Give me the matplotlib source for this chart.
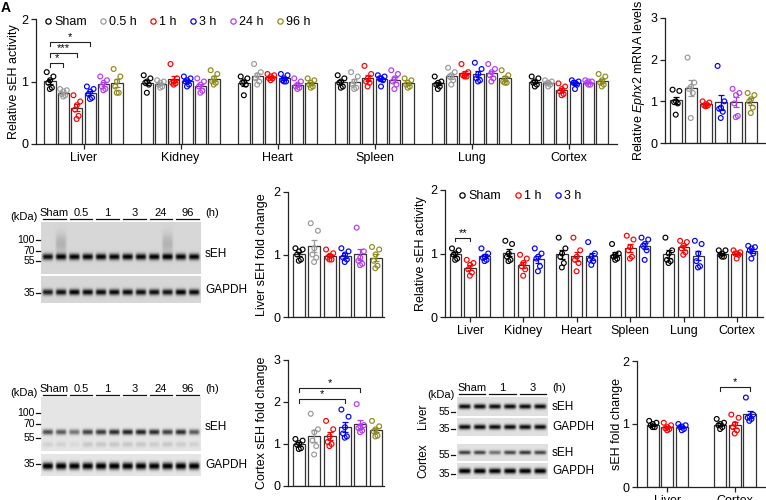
import numpy as np
import matplotlib.pyplot as plt
from matplotlib.lines import Line2D

plt.rcParams['font.family'] = ['Liberation Sans', 'DejaVu Sans']
plt.rcParams['mathtext.fontset'] = 'custom'
plt.rcParams['mathtext.rm'] = 'Liberation Sans'
plt.rcParams['mathtext.it'] = 'Liberation Sans:italic'

W, H = 766, 500

## datos
tissues = ['Liver', 'Kidney', 'Heart', 'Spleen', 'Lung', 'Cortex']
times = ['Sham', '0.5 h', '1 h', '3 h', '24 h', '96 h']
colors = ['#000000', '#9a9a9a', '#ff0000', '#0000ff', '#b43cf0', '#8c8c1e']

# actividad relativa de sEH, tejido -> grupo -> 6 animales
act_liver = [[1.15, 1.08, 1.02, 0.98, 0.90, 0.88], [0.88, 0.86, 0.84, 0.80, 0.78, 0.76],
             [0.78, 0.68, 0.62, 0.55, 0.45, 0.40], [0.92, 0.88, 0.84, 0.80, 0.74, 0.72],
             [1.08, 1.02, 0.98, 0.92, 0.88, 0.86], [1.20, 1.08, 1.00, 0.92, 0.82, 0.82]]
act_kidney = [[1.10, 1.05, 1.00, 0.98, 0.95, 0.82], [1.02, 1.00, 0.98, 0.95, 0.92, 0.90],
              [1.28, 1.05, 1.00, 0.98, 0.97, 0.95], [1.08, 1.05, 1.02, 1.00, 0.95, 0.92],
              [1.05, 1.00, 0.95, 0.92, 0.85, 0.82], [1.18, 1.12, 1.05, 1.00, 0.98, 0.95]]
act_heart = [[1.08, 1.05, 1.00, 0.98, 0.95, 0.78], [1.28, 1.15, 1.10, 1.05, 1.00, 0.95],
             [1.12, 1.10, 1.08, 1.05, 1.05, 1.02], [1.12, 1.10, 1.05, 1.02, 1.00, 1.00],
             [1.05, 1.00, 0.95, 0.92, 0.90, 0.88], [1.05, 1.02, 0.98, 0.95, 0.92, 0.90]]
act_spleen = [[1.10, 1.05, 1.00, 0.98, 0.92, 0.90], [1.15, 1.08, 1.00, 0.95, 0.90, 0.88],
              [1.25, 1.12, 1.05, 1.00, 0.98, 0.92], [1.10, 1.08, 1.05, 1.05, 1.02, 0.92],
              [1.18, 1.12, 1.05, 1.00, 0.95, 0.88], [1.05, 1.02, 0.98, 0.95, 0.92, 0.90]]
act_lung = [[1.08, 1.00, 0.98, 0.95, 0.92, 0.88], [1.22, 1.15, 1.10, 1.08, 1.02, 0.95],
            [1.28, 1.15, 1.10, 1.10, 1.08, 1.08], [1.30, 1.20, 1.12, 1.05, 1.02, 1.00],
            [1.28, 1.20, 1.15, 1.10, 1.05, 1.00], [1.18, 1.10, 1.05, 1.00, 0.98, 0.98]]
act_cortex = [[1.08, 1.05, 1.00, 0.98, 0.95, 0.92], [1.02, 1.00, 0.98, 0.97, 0.95, 0.92],
              [0.97, 0.92, 0.88, 0.84, 0.80, 0.78], [1.02, 1.00, 0.98, 0.98, 0.95, 0.88],
              [1.02, 1.00, 1.00, 0.98, 0.95, 0.95], [1.12, 1.08, 1.02, 0.98, 0.95, 0.92]]

# ARNm de Ephx2 en corteza
ephx2 = [[1.28, 1.25, 1.00, 0.98, 0.95, 0.68], [2.05, 1.45, 1.35, 1.30, 1.20, 0.60],
         [1.00, 0.97, 0.93, 0.90, 0.90, 0.88], [1.85, 1.00, 0.85, 0.82, 0.75, 0.60],
         [1.30, 1.20, 1.15, 0.95, 0.65, 0.62], [1.20, 1.15, 1.05, 1.00, 0.85, 0.72]]

# cuantificacion de western blot
liver_fold = [[1.10, 1.08, 1.05, 1.00, 0.92, 0.90], [1.50, 1.38, 1.10, 1.00, 0.95, 0.88],
              [1.08, 1.02, 0.98, 0.95, 0.92, 0.92], [1.10, 1.05, 1.00, 0.95, 0.92, 0.88],
              [1.43, 1.05, 0.95, 0.90, 0.85, 0.83], [1.12, 1.08, 1.00, 0.90, 0.82, 0.78]]
cortex_fold = [[1.12, 1.08, 1.02, 0.98, 0.90, 0.88], [1.72, 1.35, 1.28, 1.08, 0.95, 0.75],
               [1.55, 1.35, 1.18, 1.05, 1.00, 0.95], [1.82, 1.65, 1.40, 1.25, 1.18, 1.15],
               [1.95, 1.45, 1.42, 1.38, 1.32, 1.28], [1.55, 1.42, 1.35, 1.30, 1.20, 1.18]]

# segundo experimento: Sham, 1 h, 3 h
times3 = ['Sham', '1 h', '3 h']
colors3 = ['#000000', '#ff0000', '#0000ff']
act3 = [
    [[1.08, 1.05, 1.00, 0.98, 0.92, 0.90], [0.90, 0.85, 0.82, 0.75, 0.70, 0.65], [1.08, 1.00, 0.95, 0.93, 0.90, 0.88]],
    [[1.20, 1.15, 1.00, 0.95, 0.90, 0.88], [0.98, 0.92, 0.85, 0.80, 0.75, 0.65], [1.08, 1.00, 0.95, 0.92, 0.80, 0.72]],
    [[1.25, 1.08, 1.00, 0.95, 0.85, 0.78], [1.25, 1.05, 0.95, 0.90, 0.85, 0.72], [1.18, 1.00, 0.95, 0.90, 0.88, 0.82]],
    [[1.15, 1.00, 0.98, 0.95, 0.92, 0.90], [1.28, 1.22, 1.10, 1.05, 0.95, 0.92], [1.25, 1.22, 1.15, 1.12, 1.05, 0.90]],
    [[1.25, 1.05, 1.00, 0.90, 0.88, 0.85], [1.20, 1.18, 1.12, 1.08, 1.02, 0.98], [1.20, 1.15, 1.00, 0.88, 0.80, 0.78]],
    [[1.05, 1.05, 1.00, 0.98, 0.95, 0.95], [1.05, 1.02, 1.00, 1.00, 0.98, 0.92], [1.12, 1.10, 1.08, 1.05, 1.00, 0.92]],
]
wb_tissues = ['Liver', 'Cortex']
wb3 = [
    [[1.05, 1.02, 1.00, 0.98, 0.95, 0.95], [1.02, 0.98, 0.95, 0.93, 0.92, 0.90], [1.00, 0.98, 0.96, 0.95, 0.92, 0.90]],
    [[1.08, 1.02, 1.00, 0.98, 0.95, 0.92], [1.15, 1.10, 1.00, 0.95, 0.90, 0.85], [1.42, 1.15, 1.12, 1.10, 1.08, 1.05]],
]

# intensidad de bandas por carril
blot1_seh = [0.80, 0.82, 0.85, 0.84, 0.84, 0.84, 0.85, 0.83, 0.86, 0.86, 0.84, 0.84]
blot1_smear = [0.0, 0.14, 0.0, 0.0, 0.0, 0.0, 0.0, 0.0, 0.0, 0.14, 0.0, 0.0]
blot1_gapdh = [0.75, 0.80, 0.85, 0.82, 0.82, 0.82, 0.82, 0.80, 0.80, 0.78, 0.85, 0.82]
blot2_seh = [0.60, 0.55, 0.45, 0.65, 0.68, 0.74, 0.78, 0.78, 0.74, 0.66, 0.74, 0.55]
blot2_low = [0.08, 0.08, 0.05, 0.12, 0.12, 0.12, 0.12, 0.12, 0.10, 0.12, 0.10, 0.08]
blot2_gapdh = [0.95, 0.95, 0.93, 0.93, 0.95, 0.95, 0.95, 0.93, 0.92, 0.93, 0.95, 0.95]
blot3_liver_seh = [0.85, 0.85, 0.85, 0.85, 0.85, 0.85]
blot3_liver_gapdh = [0.85, 0.85, 0.85, 0.85, 0.85, 0.85]
blot3_cortex_seh = [0.65, 0.62, 0.45, 0.62, 0.68, 0.62]
blot3_cortex_gapdh = [0.92, 0.92, 0.90, 0.92, 0.92, 0.92]
lanes6 = ['Sham', '0.5', '1', '3', '24', '96']
lanes3 = ['Sham', '1', '3']

fig = plt.figure(figsize=(W / 100, H / 100), dpi=100)


def px_axes(l, t, r, b):
    return fig.add_axes([l / W, 1 - b / H, (r - l) / W, (b - t) / H])


def style(ax):
    for s in ['top', 'right']:
        ax.spines[s].set_visible(False)
    for s in ['left', 'bottom']:
        ax.spines[s].set_linewidth(0.9)
        ax.spines[s].set_color('#222222')
    ax.tick_params(direction='out', length=3.5, width=0.9, labelsize=9, pad=2, color='#222222')


jit = np.array([-0.30, 0.30, 0.0, -0.16, 0.16, -0.02])


def bars(ax, x, vals, color, w):
    v = np.sort(np.asarray(vals))[::-1]
    m = v.mean()
    se = v.std(ddof=1) / np.sqrt(len(v))
    ax.bar(x, m, w, color='white', edgecolor='#333333', linewidth=0.9, zorder=1)
    ax.errorbar(x, m, yerr=se, color=color, lw=0.9, capsize=2.2, capthick=0.9, zorder=3)
    ax.scatter(x + jit * w, v, s=12, facecolors='none', edgecolors=color, linewidths=0.85,
               zorder=4, clip_on=False)


def bracket(ax, x1, x2, y, txt, drop):
    ax.plot([x1, x1, x2, x2], [y - drop, y, y, y - drop], color='#222222', lw=0.8)
    ax.text((x1 + x2) / 2, y, txt, ha='center', va='bottom', fontsize=8)


def ylab(ax, txt, xc, l, r):
    ax.set_ylabel(txt, fontsize=9)
    ax.yaxis.set_label_coords((xc + 5 - l) / (r - l), 0.5)


def legend(ax, labels, cols, x, y):
    hs = [Line2D([], [], ls='none', marker='o', mfc='none', mec=c, mew=0.9, ms=3.8) for c in cols]
    ax.legend(hs, labels, loc='center left', bbox_to_anchor=(x, y), ncol=len(labels), frameon=False,
              fontsize=9, handlelength=0.5, handletextpad=0.25, columnspacing=1.05, borderpad=0,
              borderaxespad=0)


# panel superior: actividad en tejidos
ax = px_axes(36, 19, 617, 144)
style(ax)
act_all = [act_liver, act_kidney, act_heart, act_spleen, act_lung, act_cortex]
for i, grupo in enumerate(act_all):
    for j, vals in enumerate(grupo):
        bars(ax, i + (j - 2.5) * 0.138, vals, colors[j], 0.115)
ax.set_xlim(-0.49, 5.5)
ax.set_ylim(0, 2)
ax.set_yticks([0, 1, 2])
ax.set_xticks(range(len(tissues)))
ax.set_xticklabels(tissues)
ylab(ax, 'Relative sEH activity', 15, 36, 617)
bracket(ax, -0.345, -0.207, 1.30, '*', 0.06)
bracket(ax, -0.345, -0.069, 1.46, '***', 0.06)
bracket(ax, -0.345, 0.069, 1.63, '*', 0.06)
legend(ax, times, colors, 0.015, 0.975)

# ARNm Ephx2
ax = px_axes(665, 18, 766, 143)
style(ax)
for j, vals in enumerate(ephx2):
    bars(ax, j, vals, colors[j], 0.75)
ax.set_xlim(-0.73, 6.0)
ax.set_ylim(0, 3)
ax.set_yticks([0, 1, 2, 3])
ax.set_xticks([])
ylab(ax, 'Relative $\\it{Ephx2}$ mRNA levels', 642, 665, 766)

# cuantificacion higado
ax = px_axes(288, 192, 384, 317)
style(ax)
for j, vals in enumerate(liver_fold):
    bars(ax, j, vals, colors[j], 0.78)
ax.set_xlim(-0.72, 5.55)
ax.set_ylim(0, 2)
ax.set_yticks([0, 1, 2])
ax.set_xticks([])
ylab(ax, 'Liver sEH fold change', 263, 288, 384)

# cuantificacion corteza
ax = px_axes(288, 360, 384, 486)
style(ax)
for j, vals in enumerate(cortex_fold):
    bars(ax, j, vals, colors[j], 0.78)
ax.set_xlim(-0.72, 5.55)
ax.set_ylim(0, 3)
ax.set_yticks([0, 1, 2, 3])
ax.set_xticks([])
ylab(ax, 'Cortex sEH fold change', 263, 288, 384)
bracket(ax, 0, 3, 2.07, '*', 0.1)
bracket(ax, 0, 4, 2.33, '*', 0.1)

# actividad, segundo experimento
ax = px_axes(445, 190, 763, 317)
style(ax)
for i, grupo in enumerate(act3):
    for j, vals in enumerate(grupo):
        bars(ax, i + (j - 1) * 0.276, vals, colors3[j], 0.21)
ax.set_xlim(-0.47, 5.49)
ax.set_ylim(0, 2)
ax.set_yticks([0, 1, 2])
ax.set_xticks(range(len(tissues)))
ax.set_xticklabels(tissues)
ylab(ax, 'Relative sEH activity', 422, 445, 763)
bracket(ax, -0.276, 0, 1.25, '**', 0.06)
legend(ax, times3, colors3, 0.045, 0.95)

# cuantificacion, segundo experimento
ax = px_axes(637, 361, 766, 487)
style(ax)
for i, grupo in enumerate(wb3):
    for j, vals in enumerate(grupo):
        bars(ax, i + (j - 1) * 0.216, vals, colors3[j], 0.18)
ax.set_xlim(-0.45, 1.46)
ax.set_ylim(0, 2)
ax.set_yticks([0, 1, 2])
ax.set_xticks([0, 1])
ax.set_xticklabels(wb_tissues)
ylab(ax, 'sEH fold change', 618, 637, 766)
bracket(ax, 1 - 0.216, 1 + 0.216, 1.59, '*', 0.07)

# capa de western blots, en pixeles
ov = fig.add_axes([0, 0, 1, 1])
ov.set_xlim(0, W)
ov.set_ylim(H, 0)
ov.axis('off')
ov.patch.set_alpha(0)


def strip(x0, x1, y0, y1, layers, bg=0.86):
    n = len(layers[0][0])
    h = int((y1 - y0) * 3)
    w = int((x1 - x0) * 3)
    yy = np.linspace(0, 1, h)[:, None]
    xx = np.linspace(0, n, w)[None, :]
    img = np.full((h, w), bg)
    for inten, pos, thick in layers:
        for i, a in enumerate(inten):
            xp = np.exp(-((xx - (i + 0.5)) / 0.40) ** 6)
            yp = np.exp(-((yy - pos) / thick) ** 2)
            img = img - a * xp * yp
    ov.imshow(np.clip(img, 0, 1), cmap='gray', vmin=0, vmax=1, extent=(x0, x1, y1, y0),
              aspect='auto', interpolation='bilinear')


def header(x0, x1, y, labels):
    pw = (x1 - x0) / len(labels)
    for k, lab in enumerate(labels):
        a = x0 + k * pw + 2
        b = x0 + (k + 1) * pw - 2
        ov.plot([a, b], [y, y], color='#111111', lw=0.9)
        ov.text((a + b) / 2, y - 1, lab, ha='center', va='bottom', fontsize=8)
    ov.text(x1 + 4, y - 1, '(h)', ha='left', va='bottom', fontsize=8)


def marker(x, y, txt):
    ov.text(x - 5, y, txt, ha='right', va='center', fontsize=7.5)
    ov.plot([x - 4, x], [y, y], color='#111111', lw=0.9)


# blot higado
strip(41, 201, 222, 274, [(blot1_seh, 0.67, 0.06), (blot1_smear, 0.42, 0.2)], bg=0.84)
strip(41, 201, 276, 303, [(blot1_gapdh, 0.6, 0.11)], bg=0.84)
header(41, 201, 219, lanes6)
ov.text(10, 217, '(kDa)', ha='left', va='center', fontsize=8)
marker(40, 240, '100')
marker(40, 251, '70')
marker(40, 261, '55')
marker(40, 293, '35')
ov.text(205, 254, 'sEH', ha='left', va='center', fontsize=8.5)
ov.text(205, 290, 'GAPDH', ha='left', va='center', fontsize=8.5)

# blot corteza
strip(41, 201, 397, 451, [(blot2_seh, 0.65, 0.05), (blot2_low, 0.88, 0.05)], bg=0.9)
strip(41, 201, 454, 476, [(blot2_gapdh, 0.55, 0.16)], bg=0.9)
header(41, 201, 395, lanes6)
ov.text(10, 393, '(kDa)', ha='left', va='center', fontsize=8)
marker(40, 413, '100')
marker(40, 424, '70')
marker(40, 438, '55')
marker(40, 464, '35')
ov.text(205, 427, 'sEH', ha='left', va='center', fontsize=8.5)
ov.text(205, 465, 'GAPDH', ha='left', va='center', fontsize=8.5)

# blot segundo experimento
strip(457, 548, 397, 416, [(blot3_liver_seh, 0.5, 0.13)], bg=0.88)
strip(457, 548, 418, 436, [(blot3_liver_gapdh, 0.5, 0.14)], bg=0.88)
strip(457, 548, 444, 461, [(blot3_cortex_seh, 0.5, 0.12)], bg=0.88)
strip(457, 548, 463, 479, [(blot3_cortex_gapdh, 0.5, 0.17)], bg=0.88)
header(457, 548, 394, lanes3)
ov.text(427, 395, '(kDa)', ha='left', va='center', fontsize=8)
marker(455, 412, '55')
marker(455, 429, '35')
marker(455, 455, '55')
marker(455, 474, '35')
ov.text(423, 416, 'Liver', ha='center', va='center', rotation=90, fontsize=8.5)
ov.text(423, 461, 'Cortex', ha='center', va='center', rotation=90, fontsize=8.5)
for yy_, lab in [(407, 'sEH'), (427, 'GAPDH'), (453, 'sEH'), (471, 'GAPDH')]:
    ov.text(552, yy_, lab, ha='left', va='center', fontsize=8.5)

fig.text(0.001, 0.998, 'A', ha='left', va='top', fontsize=10, weight='bold')

fig.savefig('out.png', dpi=100)
